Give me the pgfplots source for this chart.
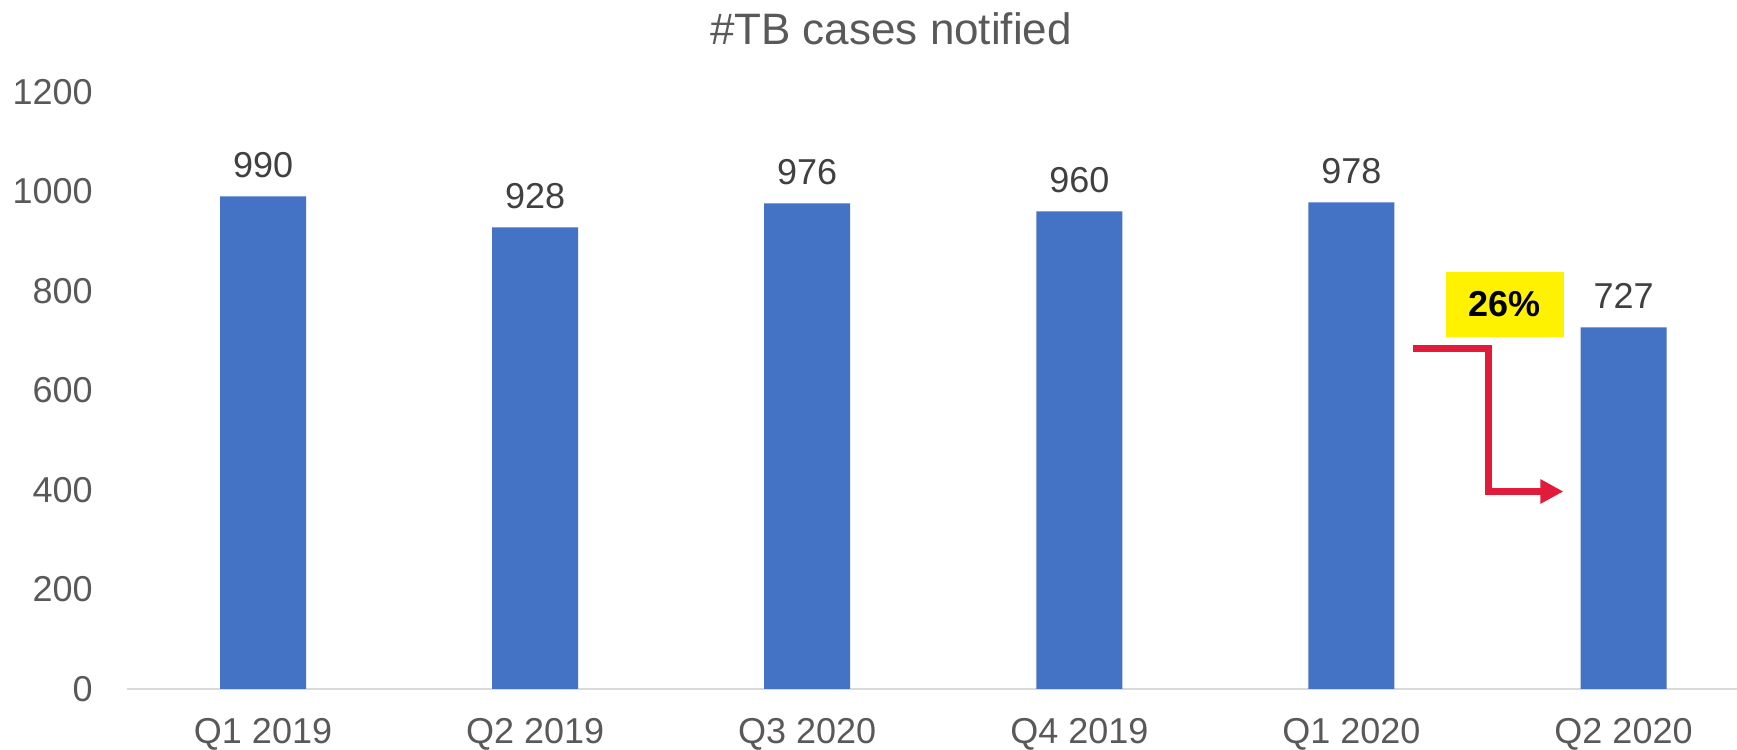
\documentclass[border=0pt]{standalone}
\usepackage{pgfplots}
\pgfplotsset{compat=1.18}
\usepackage{fontspec}
\setmainfont{Liberation Sans}
\usetikzlibrary{arrows.meta}
\definecolor{barblue}{HTML}{4472C4}
\definecolor{ticktext}{HTML}{595959}
\definecolor{datatext}{HTML}{404040}
\definecolor{axisgray}{HTML}{D9D9D9}
\definecolor{arrowred}{HTML}{E31B3A}
\begin{document}
\begin{tikzpicture}
\path[use as bounding box] (-63.5pt,-30.5pt) rectangle (805pt,344.5pt);
\begin{axis}[
  anchor=south west, at={(0pt,0pt)},
  scale only axis,
  width=805pt, height=298.5pt,
  xmin=-0.5, xmax=5.417,
  ymin=0, ymax=1200,
  xtick={0,1,2,3,4,5},
  xticklabels={Q1 2019, Q2 2019, Q3 2020, Q4 2019, Q1 2020, Q2 2020},
  ytick={0,200,400,600,800,1000,1200},
  major tick length=0pt,
  axis x line*=bottom,
  axis y line*=left,
  y axis line style={draw=none},
  x axis line style={draw=axisgray, line width=0.75pt},
  /pgf/number format/assume math mode=true,
  /pgf/number format/1000 sep={},
  tick label style={font=\fontsize{18}{20}\selectfont, text=ticktext},
  yticklabel style={anchor=east, inner sep=0pt, xshift=-17pt},
  xticklabel style={anchor=base, inner sep=0pt, yshift=-27.5pt},
  clip=false,
  nodes near coords,
  every node near coord/.append style={anchor=base, inner sep=0pt, yshift=9.5pt, font=\fontsize{18}{20}\selectfont, text=datatext},
]
\addplot[ybar, bar width=43pt, fill=barblue, draw=none] coordinates {(0,990) (1,928) (2,976) (3,960) (4,978) (5,727)};
\fill[yellow] (axis cs:4.347,708) rectangle (axis cs:4.781,838);
\node[font=\fontsize{18}{20}\selectfont\bfseries, text=black] at (axis cs:4.564,773) {26\%};
\draw[arrowred, line width=3.5pt, line join=miter, -{Triangle[length=11.5pt,width=11.5pt]}]
  (axis cs:4.227,684.8) -- (axis cs:4.502,684.8) -- (axis cs:4.502,397) -- (axis cs:4.779,397);
\end{axis}
\node[anchor=base, font=\fontsize{22}{26}\selectfont, text=ticktext] at (382pt,322.25pt) {\#TB cases notified};
\end{tikzpicture}
\end{document}
